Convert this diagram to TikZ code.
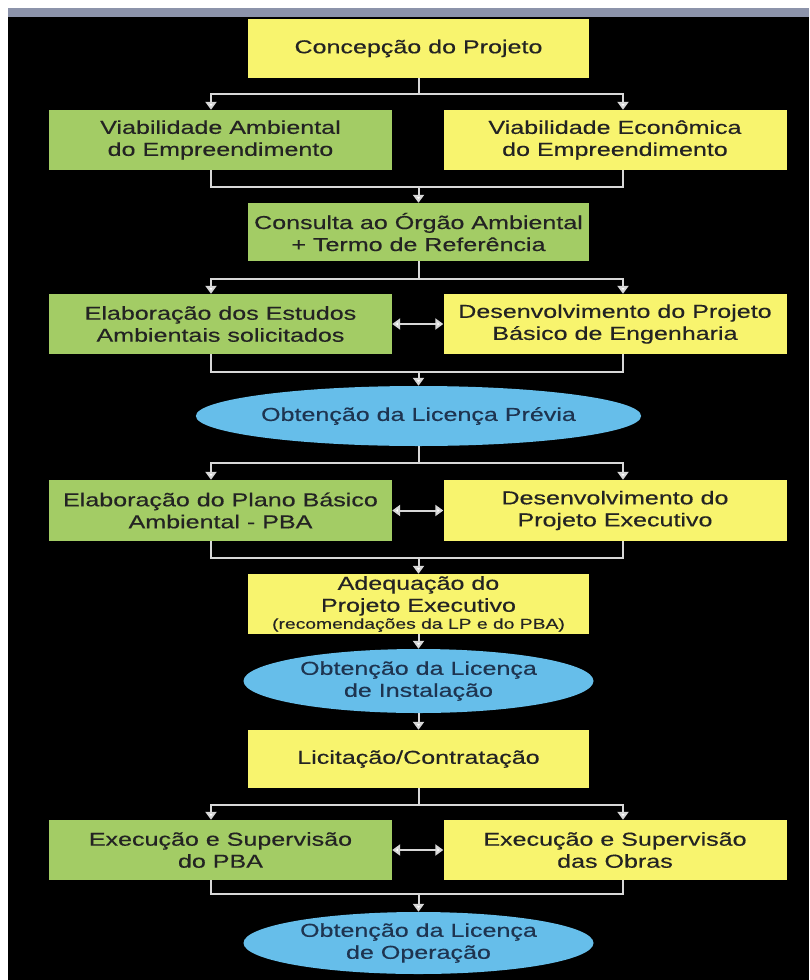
\documentclass[tikz,border=0pt]{standalone}
\usepackage{fontspec}
\setmainfont{Liberation Sans}[FakeStretch=1.34,FakeBold=0.4]
\usetikzlibrary{arrows.meta,shapes.geometric}
\definecolor{yel}{RGB}{248,244,110}
\definecolor{grn}{RGB}{163,204,101}
\definecolor{blu}{RGB}{102,190,234}
\definecolor{band}{RGB}{140,147,170}
\definecolor{txt}{RGB}{35,35,35}
\definecolor{etxt}{RGB}{30,52,80}
\definecolor{conn}{RGB}{215,215,215}
\tikzset{
  base/.style={inner sep=0pt, align=center, text=txt, font=\fontsize{18.7}{22}\selectfont},
  ybox/.style={base, rectangle, fill=yel, minimum width=341pt, minimum height=59pt},
  gbox/.style={base, rectangle, fill=grn, minimum width=341pt, minimum height=59pt},
  sbox/.style={minimum width=343pt, minimum height=60pt},
  oval/.style={base, ellipse, fill=blu, text=etxt, minimum width=350pt, minimum height=63pt},
  line/.style={draw=conn, line width=2pt},
  arr/.style={line, -{Triangle[width=11pt,length=8pt,fill=white]}},
  darr/.style={line, {Triangle[width=11pt,length=8pt,fill=white]}-{Triangle[width=11pt,length=8pt,fill=white]}},
}
\begin{document}
\begin{tikzpicture}[x=1pt,y=-1pt]
\useasboundingbox (0,0) rectangle (809,980);
\fill[white] (0,0) rectangle (809,980);
\fill[band] (8,8) rectangle (809,17);
\fill[black] (8,17) rectangle (809,980);

\coordinate (L) at (211,0);
\coordinate (R) at (623,0);

\node[ybox] (c1) at (418.5,48.5) {Concepção do Projeto};
\node[gbox,sbox] (va) at (220.5,140) {Viabilidade Ambiental\\do Empreendimento};
\node[ybox,sbox] (ve) at (615,140) {Viabilidade Econômica\\do Empreendimento};
\node[gbox,minimum height=58pt] (co) at (418.5,232) {Consulta ao Órgão Ambiental\\+ Termo de Referência};
\node[gbox,sbox] (ee) at (220.5,324) {Elaboração dos Estudos\\Ambientais solicitados};
\node[ybox,sbox] (db) at (615,324) {Desenvolvimento do Projeto\\Básico de Engenharia};
\node[oval,minimum width=344pt,minimum height=60pt] (lp) at (418.5,416) {Obtenção da Licença Prévia};
\node[gbox,sbox,minimum height=61pt] (pb) at (220.5,510.5) {Elaboração do Plano Básico\\Ambiental - PBA};
\node[ybox,sbox,minimum height=61pt] (de) at (615,510.5) {Desenvolvimento do\\Projeto Executivo};
\node[ybox,minimum height=60pt] (ad) at (418.5,604) {Adequação do\\Projeto Executivo\\[-5pt]{\fontsize{14.4}{16}\selectfont (recomendações da LP e do PBA)}};
\node[oval,minimum height=64pt] (li) at (418.5,681) {Obtenção da Licença\\de Instalação};
\node[ybox,minimum height=58pt] (lic) at (418.5,759) {Licitação/Contratação};
\node[gbox,sbox] (ep) at (220.5,850) {Execução e Supervisão\\do PBA};
\node[ybox,sbox] (eo) at (615,850) {Execução e Supervisão\\das Obras};
\node[oval,minimum height=62pt] (lo) at (418.5,943) {Obtenção da Licença\\de Operação};

% junction coordinates
\coordinate (j1) at (418.5,94);
\coordinate (j2) at (418.5,187);
\coordinate (j3) at (418.5,279);
\coordinate (j4) at (418.5,372);
\coordinate (j5) at (418.5,463);
\coordinate (j6) at (418.5,558);
\coordinate (j7) at (418.5,805);
\coordinate (j8) at (418.5,894);

% c1 -> va, ve
\draw[line] (c1.south) -- (j1);
\draw[arr] (j1) -| (L |- va.north);
\draw[arr] (j1) -| (R |- ve.north);
% va, ve -> co
\draw[line] (L |- va.south) |- (j2);
\draw[line] (R |- ve.south) |- (j2);
\draw[arr] (j2) -- (co.north);
% co -> ee, db
\draw[line] (co.south) -- (j3);
\draw[arr] (j3) -| (L |- ee.north);
\draw[arr] (j3) -| (R |- db.north);
\draw[darr] (ee.east) -- (db.west);
% ee, db -> lp
\draw[line] (L |- ee.south) |- (j4);
\draw[line] (R |- db.south) |- (j4);
\draw[arr] (j4) -- (lp.north);
% lp -> pb, de
\draw[line] (lp.south) -- (j5);
\draw[arr] (j5) -| (L |- pb.north);
\draw[arr] (j5) -| (R |- de.north);
\draw[darr] (pb.east) -- (de.west);
% pb, de -> ad
\draw[line] (L |- pb.south) |- (j6);
\draw[line] (R |- de.south) |- (j6);
\draw[arr] (j6) -- (ad.north);
% ad -> li -> lic
\draw[arr] (ad.south) -- (li.north);
\draw[arr] (li.south) -- (lic.north);
% lic -> ep, eo
\draw[line] (lic.south) -- (j7);
\draw[arr] (j7) -| (L |- ep.north);
\draw[arr] (j7) -| (R |- eo.north);
\draw[darr] (ep.east) -- (eo.west);
% ep, eo -> lo
\draw[line] (L |- ep.south) |- (j8);
\draw[line] (R |- eo.south) |- (j8);
\draw[arr] (j8) -- (lo.north);
\end{tikzpicture}
\end{document}
